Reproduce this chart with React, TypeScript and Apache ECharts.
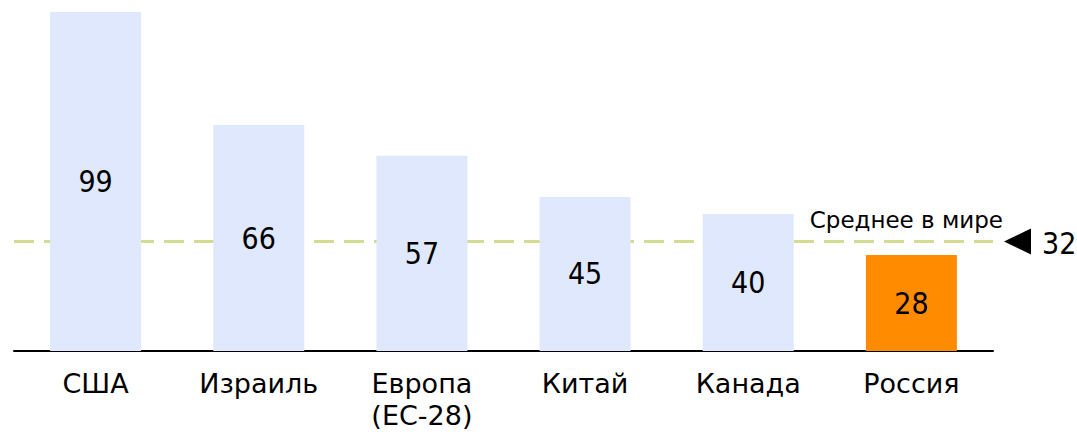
import React, { useEffect, useRef } from "react";
import * as echarts from "echarts";

const categories = ["США", "Израиль", "Европа\n(ЕС-28)", "Китай", "Канада", "Россия"];
const values = [99, 66, 57, 45, 40, 28];
const highlightIndex = 5;
const worldAverage = 32;
const averageLabel = "Среднее в мире";

const FONT = "'DejaVu Sans Condensed', 'DejaVu Sans', sans-serif";
const FONT_WIDE = "'DejaVu Sans', sans-serif";

export default function App() {
  const ref = useRef<HTMLDivElement>(null);
  useEffect(() => {
    if (!ref.current) return;
    const chart = echarts.init(ref.current, undefined, { renderer: "svg" });
    chart.setOption({
      animation: false,
      grid: { left: 14, right: 84, top: 12, bottom: 434 - 351 },
      xAxis: {
        type: "category",
        data: categories,
        axisLine: { lineStyle: { color: "#000", width: 2 } },
        axisTick: { show: false },
        axisLabel: {
          color: "#000",
          fontFamily: FONT_WIDE,
          fontSize: 27,
          lineHeight: 32,
          margin: 16,
        },
      },
      yAxis: {
        type: "value",
        min: 0,
        max: 99,
        show: false,
        splitLine: { show: false },
      },
      series: [
        {
          type: "bar",
          barWidth: 91,
          data: values.map((v, i) => ({
            value: v,
            itemStyle: { color: i === highlightIndex ? "#FF8C00" : "#DFE8FC" },
          })),
          label: {
            show: true,
            position: "inside",
            color: "#000",
            fontFamily: FONT,
            fontSize: 30,
          },
          markLine: {
            silent: true,
            symbol: ["none", "none"],
            label: { show: false },
            lineStyle: { color: "#D4DC94", width: 3, type: [20, 10] },
            data: [{ yAxis: worldAverage }],
            z: 1,
          },
        },
      ],
    });
    const y = chart.convertToPixel({ yAxisIndex: 0 }, worldAverage) as number;
    chart.setOption({
      graphic: [
        {
          type: "text",
          x: 1003,
          y: y - 10,
          style: {
            text: averageLabel,
            fontFamily: FONT_WIDE,
            fontSize: 23,
            fill: "#000",
            align: "right",
            verticalAlign: "bottom",
          },
        },
        {
          type: "polygon",
          shape: { points: [[1004, y], [1031, y - 13], [1031, y + 13]] },
          style: { fill: "#000" },
        },
        {
          type: "text",
          x: 1042,
          y: y + 2,
          style: {
            text: String(worldAverage),
            fontFamily: FONT,
            fontSize: 30,
            fill: "#000",
            align: "left",
            verticalAlign: "middle",
          },
        },
      ],
    });
    return () => chart.dispose();
  }, []);
  return <div ref={ref} style={{ width: 1077, height: 434, position: "absolute", left: 0, top: 0 }} />;
}
